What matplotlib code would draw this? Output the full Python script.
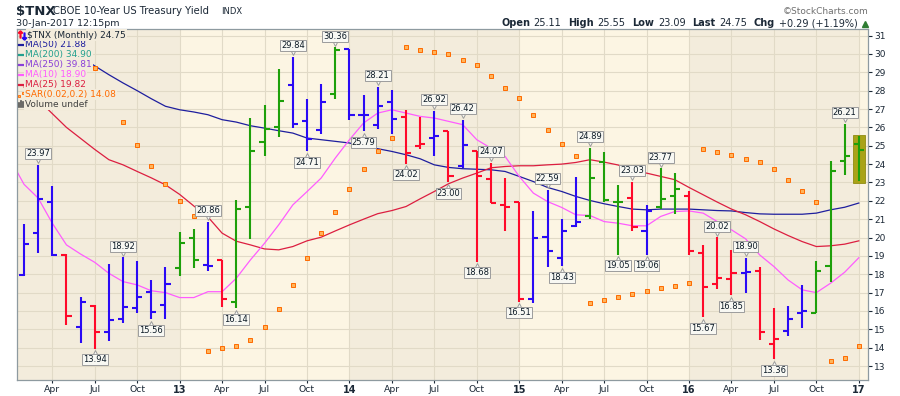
import numpy as np
import pandas as pd
import matplotlib
matplotlib.use("Agg")
import matplotlib.pyplot as plt
from matplotlib import transforms
from matplotlib.lines import Line2D
from matplotlib.patches import Rectangle

plt.rcParams['font.family'] = ['DejaVu Sans']

# =============================================
# DATA
# =============================================
months = pd.date_range('2012-02-01', '2017-01-01', freq='MS')      # one OHLC bar per month
ma_months = pd.date_range('2012-01-01', '2017-01-01', freq='MS')   # MAs start one month earlier

opens = [17.98, 20.27, 21.91, 19.05, 15.13, 16.27, 14.84, 15.56, 16.15, 17.05,
         16.33, 18.36, 20.00, 18.50, 18.76, 16.51, 21.64, 25.18, 26.00, 28.33,
         26.36, 25.87, 27.82, 30.29, 26.69, 26.15, 27.36, 26.55, 24.96, 25.40,
         25.82, 23.87, 24.73, 23.18, 21.75, 21.93, 16.65, 20.05, 18.87, 20.64,
         21.15, 24.09, 21.95, 22.15, 20.33, 21.69, 22.24, 22.24, 19.18, 17.45,
         17.73, 18.09, 18.20, 14.20, 14.91, 15.87, 15.91, 18.45, 24.18, 25.11]
highs = [20.75, 23.97, 22.82, 19.10, 16.75, 16.30, 18.55, 18.92, 18.70, 17.69,
         18.38, 20.29, 20.47, 20.86, 18.76, 22.05, 26.51, 27.24, 29.20, 29.84,
         27.56, 28.38, 30.36, 30.29, 27.78, 28.21, 28.05, 26.95, 26.55, 26.92,
         25.82, 26.42, 24.73, 24.07, 23.24, 21.93, 21.45, 22.59, 21.02, 23.29,
         24.89, 24.65, 22.87, 23.03, 21.78, 23.77, 23.51, 22.55, 19.60, 20.02,
         19.33, 18.90, 18.38, 16.15, 16.27, 17.42, 18.73, 24.15, 26.21, 25.55]
lows = [17.93, 19.18, 19.02, 15.24, 14.27, 13.94, 14.36, 15.36, 15.90, 15.56,
        15.55, 17.93, 18.33, 18.20, 16.24, 16.14, 19.91, 24.42, 25.45, 25.96,
        24.71, 25.65, 27.56, 26.42, 25.79, 25.90, 25.64, 24.02, 24.82, 24.42,
        23.00, 23.78, 18.68, 21.87, 20.33, 16.51, 16.42, 18.42, 18.43, 20.55,
        21.00, 21.91, 19.05, 20.38, 19.06, 21.55, 21.27, 19.05, 15.67, 17.18,
        16.85, 16.96, 14.42, 13.36, 14.64, 15.05, 15.91, 17.60, 23.38, 23.09]
closes = [19.65, 22.09, 19.05, 15.73, 16.47, 14.84, 15.49, 16.22, 16.75, 15.96,
          17.45, 19.71, 18.80, 18.44, 16.65, 21.55, 24.69, 25.91, 27.42, 26.18,
          25.38, 27.36, 30.24, 26.69, 26.65, 27.18, 26.47, 24.60, 25.09, 25.55,
          23.36, 25.05, 23.33, 21.87, 21.64, 16.65, 19.96, 19.27, 20.38, 20.87,
          23.27, 22.02, 21.91, 20.55, 21.42, 22.09, 22.64, 19.24, 17.33, 17.78,
          18.09, 18.15, 14.84, 14.45, 15.55, 16.02, 18.20, 23.60, 24.45, 24.75]
# impulse colouring of each bar: b = blue, r = red, g = green
impulse = ("bbbrbrbbbb" "bggbrggggb" "bbgbbbbrrb"
           "rbrrrrbbbb" "gggrbggrrr" "rbrrbbgggg")

nan = np.nan
ma10 = [24.3, 22.9, 22.15, 20.78, 19.6, 19.1, 18.65, 18.05, 17.6, 17.42, 17.1,
        17.0, 16.73, 16.73, 17.05, 17.05, 17.78, 18.78, 19.69, 20.69, 21.78,
        22.5, 23.24, 24.33, 25.33, 26.24, 26.78, 26.96, 26.78, 26.6, 26.51,
        26.33, 26.15, 25.33, 24.87, 24.42, 23.33, 22.42, 21.96, 21.64, 21.24,
        21.2, 20.87, 20.78, 20.64, 20.64, 21.15, 21.42, 21.45, 21.33, 20.87,
        20.42, 19.93, 19.05, 18.42, 17.69, 17.15, 17.0, 17.51, 18.11, 18.90]
ma25 = [nan, 28.2, 27.5, 26.75, 26.0, 25.4, 24.8, 24.24, 23.96, 23.6, 23.25,
        22.87, 22.35, 21.72, 21.12, 20.24, 19.8, 19.6, 19.38, 19.33, 19.51,
        19.82, 20.02, 20.36, 20.69, 21.0, 21.3, 21.47, 21.69, 22.11, 22.51,
        22.93, 23.24, 23.51, 23.8, 23.87, 23.91, 23.91, 23.96, 24.0, 24.09,
        24.24, 24.11, 23.95, 23.6, 23.51, 23.33, 23.15, 22.73, 22.33, 21.93,
        21.55, 21.24, 20.87, 20.47, 20.11, 19.78, 19.51, 19.55, 19.64, 19.82]
ma50 = [nan, 31.6, 31.2, 30.75, 30.3, 29.85, 29.35, 28.87, 28.42, 28.0, 27.56,
        27.15, 26.96, 26.84, 26.69, 26.42, 26.29, 26.09, 25.96, 25.82, 25.69,
        25.42, 25.33, 25.24, 25.15, 24.96, 24.84, 24.69, 24.51, 24.29, 23.96,
        23.82, 23.75, 23.72, 23.69, 23.6, 23.33, 23.05, 22.73, 22.51, 22.24,
        22.02, 21.84, 21.69, 21.55, 21.51, 21.55, 21.55, 21.55, 21.51, 21.47,
        21.45, 21.36, 21.29, 21.27, 21.27, 21.27, 21.33, 21.51, 21.65, 21.88]
sar = [nan, nan, nan, nan, nan, 29.24, 27.75, 26.29, 25.05, 23.89,
       22.91, 22.0, 21.15, 13.82, 13.96, 14.09, 14.42, 15.11, 16.11, 17.42,
       18.87, 20.24, 21.38, 22.64, 23.73, 24.69, 25.42, 30.38, 30.22, 30.11,
       30.0, 29.67, 29.4, 28.8, 28.15, 27.6, 26.67, 25.85, 25.09, 24.44,
       16.42, 16.58, 16.75, 16.91, 17.07, 17.24, 17.35, 17.51, 24.82, 24.65,
       24.49, 24.27, 24.11, 23.73, 23.13, 22.55, 21.93, 13.25, 13.42, 14.08]

# bars that carry a high (h) or low (l) value label
label_idx = [1, 5, 7, 9, 13, 15, 19, 20, 22, 24, 25, 27, 29, 30, 31, 32,
             33, 35, 37, 38, 40, 42, 43, 44, 45, 48, 49, 50, 51, 53, 58]
label_side = "hl" * 15 + "h"

legend_rows = ['\\$TNX (Monthly) 24.75', 'MA(50) 21.88', 'MA(200) 34.90', 'MA(250) 39.81',
               'MA(10) 18.90', 'MA(25) 19.82', 'SAR(0.02,0.2) 14.08', 'Volume undef']
chg_text = '+0.29 (+1.19%)'

# =============================================
# STYLE
# =============================================
W, H = 900, 396
bg_light = '#FCF5E3'
bg_dark = '#F3ECDC'
grid_col = '#E1DAC7'
bar_cols = {'b': '#2A0AF5', 'r': '#FF0A2A', 'g': '#1EA00A'}
c_ma50, c_ma200, c_ma250 = '#1E1E9E', '#22A08E', '#8A3FD8'
c_ma10, c_ma25, c_sar = '#FF5CFF', '#DC1E40', '#FF6A00'
txt_dark = '#1B2836'

fig = plt.figure(figsize=(W / 100, H / 100), dpi=100)
ax = fig.add_axes([17 / W, 16 / H, 851 / W, 351 / H])
ax.set_facecolor(bg_light)

x = np.arange(len(months))
ma_x = np.arange(-1, len(months))

# alternate yearly background bands
year_starts = [i for i, m in enumerate(months) if m.month == 1]
bounds = [-2] + year_starts + [len(months) + 2]
for k in range(len(bounds) - 1):
    if k % 2 == 0:
        ax.axvspan(bounds[k], bounds[k + 1], color=bg_dark, lw=0, zorder=0.1)

# moving averages + SAR
ax.plot(ma_x, ma50, color=c_ma50, lw=0.9, zorder=2)
ax.plot(ma_x, ma25, color=c_ma25, lw=0.9, zorder=2)
ax.plot(ma_x, ma10, color=c_ma10, lw=0.9, zorder=2)
ax.plot(x, sar, 's', ms=2.5, mfc='#FFB45A', mec=c_sar, mew=0.7, ls='none', zorder=3)

# highlight for the latest bar
ax.add_patch(Rectangle((x[-1] - 0.42, lows[-1] - 0.12), 0.84, highs[-1] - lows[-1] + 0.17,
                       fc='#A9A317', ec='#918C12', lw=0.6, zorder=4))

# OHLC bars
tick = 0.36
for i in range(len(months)):
    c = bar_cols[impulse[i]]
    kw = dict(color=c, lw=1.5, solid_capstyle='butt', zorder=5)
    ax.plot([x[i], x[i]], [lows[i], highs[i]], **kw)
    ax.plot([x[i] - tick, x[i]], [opens[i], opens[i]], **kw)
    ax.plot([x[i], x[i] + tick], [closes[i], closes[i]], **kw)

# high / low value tags
for i, side in zip(label_idx, label_side):
    if side == 'h':
        v, dy, mk = highs[i], 11, 'v'
    else:
        v, dy, mk = lows[i], -11, '^'
    tr = transforms.offset_copy(ax.transData, fig=fig, x=0, y=4.5 if side == 'h' else -4.5, units='dots')
    ax.plot(x[i], v, marker=mk, ms=5, mfc='#F8F8F3', mec='#9C9C9C', mew=0.7,
            transform=tr, zorder=7, clip_on=False)
    ax.annotate(f'{v:.2f}', xy=(x[i], v), xytext=(0, dy), textcoords='offset pixels',
                ha='center', va='center', fontsize=6, color='#0C1A26', zorder=8,
                bbox=dict(boxstyle='square,pad=0.12', fc='#F8F8F3', ec='#9C9C9C', lw=0.7))

# axes, grid, ticks
ax.set_xlim(-0.495, 59.65)
ax.set_ylim(12.24, 31.36)
q_idx = [i for i, m in enumerate(months) if m.month in (1, 4, 7, 10)]
q_lab = [m.strftime('%y') if m.month == 1 else m.strftime('%b') for m in months[q_idx]]
ax.set_xticks(x[q_idx], q_lab)
ax.set_yticks(np.arange(13, 32))
ax.yaxis.tick_right()
ax.grid(True, color=grid_col, lw=0.8)
ax.set_axisbelow(True)
ax.tick_params(axis='x', length=2, pad=1.5, labelsize=6.7, colors=txt_dark)
ax.tick_params(axis='y', length=3, pad=1.5, labelsize=6.5, colors=txt_dark)
for lbl in ax.get_xticklabels():
    if lbl.get_text().isdigit():
        lbl.set_fontweight('bold')
        lbl.set_fontsize(7)
for s in ax.spines.values():
    s.set_color('#8E9AA0')
    s.set_linewidth(0.9)


def fx(px):
    return px / W


def fy(py):
    return 1 - py / H


# legend block (top-left inside the plot)
leg_cols = [txt_dark, c_ma50, c_ma200, c_ma250, c_ma10, c_ma25, c_sar, '#404040']
for k, (s, c) in enumerate(zip(legend_rows, leg_cols)):
    yk = 35 + 9.9 * k
    fig.text(fx(27 if k == 0 else 25), fy(yk), s, color=c, fontsize=6.5, va='center', ha='left',
             zorder=20 - k, bbox=dict(boxstyle='square,pad=0.12', fc=bg_dark, ec='none'))
    if 1 <= k <= 5:
        fig.add_artist(Line2D([fx(18.5), fx(24)], [fy(yk), fy(yk)], color=c, lw=1.6))
fig.add_artist(Line2D([fx(20)], [fy(34)], marker=r'$\uparrow$', ms=5, color='#FF0A2A', ls='none', zorder=25))
fig.add_artist(Line2D([fx(23.5)], [fy(36)], marker=r'$\downarrow$', ms=5, color='#2A0AF5', ls='none', zorder=25))
yk = 35 + 9.9 * 6
fig.add_artist(Line2D([fx(19), fx(23)], [fy(yk + 1.5), fy(yk - 1)], ls='none', marker='s', ms=2,
                      mfc='#FFB45A', mec=c_sar, mew=0.6))
yk = 35 + 9.9 * 7
for dx, hh in zip([18.5, 20.5, 22.5], [4, 6, 5]):
    fig.add_artist(Line2D([fx(dx), fx(dx)], [fy(yk + 3), fy(yk + 3 - hh)], color='#505050', lw=1.2))

# header
fig.text(fx(16), fy(15.5), '\\$TNX', fontsize=9.5, fontweight='bold', color=txt_dark, va='baseline')
fig.text(fx(53), fy(14.5), 'CBOE 10-Year US Treasury Yield', fontsize=7.2, color=txt_dark, va='baseline')
fig.text(fx(221), fy(14.5), 'INDX', fontsize=6, color=txt_dark, va='baseline')
fig.text(fx(16), fy(26.5), '30-Jan-2017 12:15pm', fontsize=6.8, color=txt_dark, va='baseline')
fig.text(fx(868), fy(14), '©StockCharts.com', fontsize=6.5, color='#707070', va='baseline', ha='right')

# quote line, chained right-to-left so it ends just before the up-triangle
quote = [('Open', True), (f'{opens[-1]:.2f}', False),
         ('High', True), (f'{highs[-1]:.2f}', False),
         ('Low', True), (f'{lows[-1]:.2f}', False),
         ('Last', True), (f'{closes[-1]:.2f}', False),
         ('Chg', True), (chg_text, False)]
renderer = fig.canvas.get_renderer()
cur = 857.5
for k in range(len(quote) - 1, -1, -1):
    s, bold = quote[k]
    t = fig.text(fx(cur), fy(26.5), s, fontsize=7, fontweight='bold' if bold else 'normal',
                 color=txt_dark, va='baseline', ha='right')
    w = t.get_window_extent(renderer).width
    cur -= w + (3.5 if not bold else 7)
fig.add_artist(Line2D([fx(864.5)], [fy(23.5)], marker='^', ms=4.2, color='#2E7D32', ls='none'))

fig.savefig('out.png', dpi=100, facecolor='white')
plt.close(fig)
